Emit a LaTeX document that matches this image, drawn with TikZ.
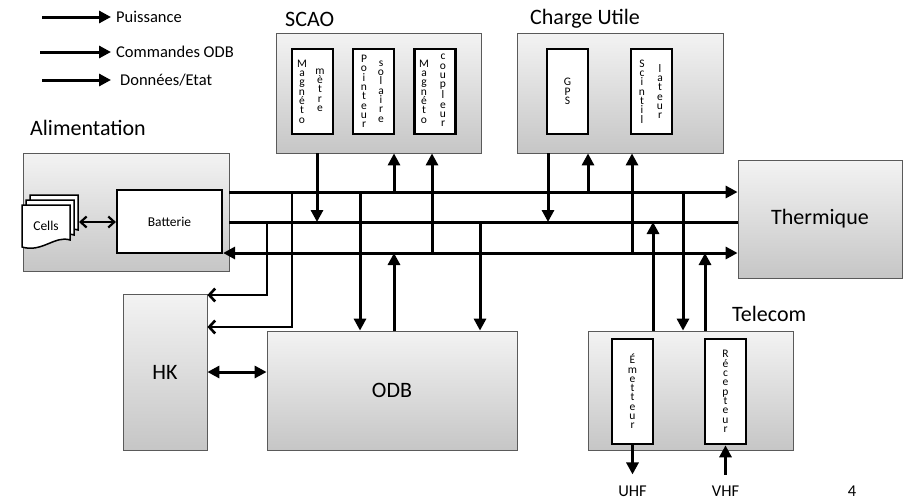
\documentclass[tikz,border=0pt]{standalone}
\usepackage{fontspec}
\setmainfont{Carlito}
\usetikzlibrary{arrows.meta, shadows, positioning, calc}
\definecolor{boxtop}{HTML}{F3F3F3}
\definecolor{boxbot}{HTML}{C6C6C6}
\definecolor{boxline}{HTML}{5A5A5A}

\tikzset{
  bloc/.style={draw=boxline, line width=0.8pt, top color=boxtop, bottom color=boxbot,
    drop shadow={shadow xshift=1.2pt, shadow yshift=-1.2pt, opacity=0.35},
    inner sep=0pt, font=\fontsize{22}{26}\selectfont},
  sousbloc/.style={draw=black, line width=2.6pt, fill=white, minimum width=41pt, minimum height=85pt, inner sep=0pt},
  lettres/.style={align=center, inner sep=0pt, font=\fontsize{11.5}{9.3}\selectfont},
  titre/.style={anchor=west, inner sep=0pt, font=\fontsize{22}{26}\selectfont},
  legende/.style={anchor=west, inner sep=0pt, font=\fontsize{16.5}{20}\selectfont},
  petit/.style={inner sep=0pt, font=\fontsize{13.5}{16}\selectfont},
  trait/.style={line width=3pt},
  fleche/.style={line width=3pt, -{Triangle[length=12pt, width=12pt]}},
  bifleche/.style={line width=3pt, {Triangle[length=12pt, width=12pt]}-{Triangle[length=12pt, width=12pt]}},
  crochet/.style={line width=2.6pt, -{Straight Barb[length=6pt, width=13pt]}},
  bicrochet/.style={line width=2.2pt, {Straight Barb[length=6pt, width=11pt]}-{Straight Barb[length=6pt, width=11pt]}}
}

\begin{document}
\begin{tikzpicture}[x=1pt, y=-1pt, line join=miter]
  \useasboundingbox (0,0) rectangle (904,501);

  % Legende
  \node[legende] (lpuis) at (116,17) {Puissance};
  \node[legende] (lcmd) at (116,52) {Commandes ODB};
  \node[legende] (ldon) at (120,80) {Données/Etat};
  \coordinate (lp0) at (42,17);
  \coordinate (lc0) at (40,52);
  \coordinate (ld0) at (42,80);
  \draw[fleche] (lp0) -- ([xshift=-5pt]lpuis.west);
  \draw[fleche] (lc0) -- ([xshift=-5pt]lcmd.west);
  \draw[fleche] (ld0) -- ([xshift=-9pt]ldon.west);

  % Alimentation
  \node[titre] (talim) at (30,128) {Alimentation};
  \node[bloc, minimum width=206pt, minimum height=118pt] (alim) at (126,212) {};
  \node[draw, line width=2.2pt, fill=white, minimum width=105pt, minimum height=63pt, petit] (bat) at (169.5,221.5) {Batterie};
  \foreach \d in {8,4,0}
    \filldraw[fill=white, line width=1.5pt, shift={(\d,-1.25*\d)}]
      (22,205) -- (70,205) -- (70,240) .. controls (55,235) and (42,253) .. (22,247) -- cycle;
  \node[petit] (cells) at (46,226) {Cells};
  \coordinate (cellsE) at (79,222);
  \draw[bicrochet] (cellsE) -- (bat.west |- cellsE);

  % SCAO
  \node[titre] (tscao) at (285,19) {SCAO};
  \node[bloc, minimum width=205pt, minimum height=120pt] (scao) at (378.5,93) {};
  \node[sousbloc] (magm) at (312.5,91.5) {};
  \node[lettres] (magm1) at ([xshift=-10.5pt]magm.center) {M\\a\\g\\n\\é\\t\\o};
  \node[lettres] (magm2) at ([xshift=7.5pt, yshift=1.5pt]magm.center) {m\\è\\t\\r\\e};
  \node[sousbloc] (point) at (373.5,91.5) {};
  \node[lettres] (point1) at ([xshift=-9.5pt]point.center) {P\\o\\i\\n\\t\\e\\u\\r};
  \node[lettres] (point2) at ([xshift=7.5pt]point.center) {s\\o\\l\\a\\i\\r\\e};
  \node[sousbloc] (magc) at (435,91.5) {};
  \node[lettres] (magc1) at ([xshift=-11pt]magc.center) {M\\a\\g\\n\\é\\t\\o};
  \node[lettres] (magc2) at ([xshift=8pt, yshift=1pt]magc.center) {c\\o\\u\\p\\l\\e\\u\\r};

  % Charge utile
  \node[titre] (tcu) at (530,19) {Charge Utile};
  \node[bloc, minimum width=206pt, minimum height=120pt] (cu) at (620,93) {};
  \node[sousbloc] (gps) at (567.5,91.5) {};
  \node[lettres] (gps1) at (gps.center) {G\\P\\S};
  \node[sousbloc] (scint) at (651.5,91.5) {};
  \node[lettres] (scint1) at ([xshift=-9.5pt]scint.center) {S\\c\\i\\n\\t\\i\\l};
  \node[lettres] (scint2) at ([xshift=8.5pt]scint.center) {l\\a\\t\\e\\u\\r};

  % Thermique, HK, ODB
  \node[bloc, minimum width=164pt, minimum height=118pt] (therm) at (820,219) {Thermique};
  \node[bloc, minimum width=84pt, minimum height=156pt] (hk) at (165,372) {HK};
  \node[bloc, minimum width=250pt, minimum height=119pt] (odb) at (392,390.5) {ODB};

  % Telecom
  \node[titre] (ttel) at (732,314) {Telecom};
  \node[bloc, minimum width=205pt, minimum height=119pt] (tel) at (690.5,390.5) {};
  \node[sousbloc, minimum height=105pt] (emet) at (632.5,391.5) {};
  \node[lettres] (emet1) at (emet.center) {É\\m\\e\\t\\t\\e\\u\\r};
  \node[sousbloc, minimum height=105pt] (recep) at (725.5,391.5) {};
  \node[lettres] (recep1) at (recep.center) {R\\é\\c\\e\\p\\t\\e\\u\\r};
  \node[legende, anchor=center] (uhf) at (632.5,491) {UHF};
  \node[legende, anchor=center] (vhf) at (725.5,491) {VHF};
  \node[legende, anchor=south] (pnum) at (852,497) {4};

  % Bus
  \coordinate (pw) at (0,192);
  \coordinate (cmd) at (0,222);
  \coordinate (dat) at (0,253);
  \draw[fleche] (alim.east |- pw) -- (therm.west |- pw);
  \draw[trait] (alim.east |- cmd) -- (therm.west |- cmd);
  \draw[bifleche] (bat.east |- dat) -- (therm.west |- dat);

  % Liaisons
  \draw[fleche] (scao.south -| 317,0) -- (317,0 |- cmd);
  \draw[fleche] (394,0 |- pw) -- (scao.south -| 394,0);
  \draw[fleche] (432,0 |- dat) -- (scao.south -| 432,0);
  \draw[fleche] (cu.south -| 548,0) -- (548,0 |- cmd);
  \draw[fleche] (588,0 |- pw) -- (cu.south -| 588,0);
  \draw[fleche] (632,0 |- dat) -- (cu.south -| 632,0);
  \draw[fleche] (360,0 |- pw) -- (odb.north -| 360,0);
  \draw[fleche] (odb.north -| 394,0) -- (394,0 |- dat);
  \draw[fleche] (480,0 |- cmd) -- (odb.north -| 480,0);
  \draw[fleche] (tel.north -| 653,0) -- (653,0 |- cmd);
  \draw[fleche] (683,0 |- pw) -- (tel.north -| 683,0);
  \draw[fleche] (tel.north -| 705,0) -- (705,0 |- dat);
  \draw[crochet] (267,0 |- cmd) |- (hk.east |- 0,295);
  \draw[crochet] (292,0 |- pw) |- (hk.east |- 0,327);
  \draw[bifleche] (hk.east) -- (odb.west |- hk.east);
  \draw[fleche] (emet.south) -- ([yshift=11pt]uhf.north);
  \draw[fleche] ([yshift=11pt]vhf.north) -- (recep.south);
\end{tikzpicture}
\end{document}
